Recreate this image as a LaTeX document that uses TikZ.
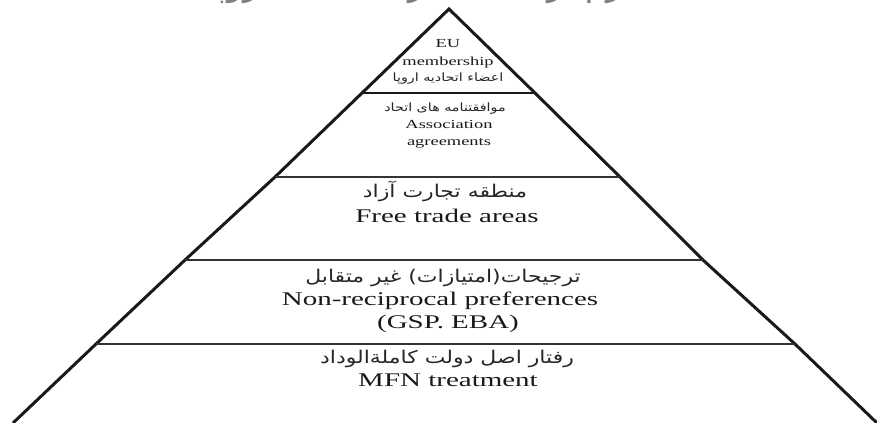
\documentclass[tikz,border=0pt]{standalone}
\usepackage{fontspec}
\newfontfamily\enfont{Liberation Serif}[FakeStretch=1.5]
\newfontfamily\fafont[Script=Arabic,FakeStretch=1.25]{DejaVu Sans}
\newfontfamily\titlefont[Script=Arabic]{DejaVu Sans}
\TeXXeTstate=1
\tikzset{
    edge/.style={draw=black!90, line width=1.7pt, line join=miter},
    rung/.style={draw=black!80, line width=1.2pt},
    enbig/.style={anchor=base, inner sep=0pt, text=black!90, font=\enfont\fontsize{11}{13}\selectfont},
    ensmall/.style={anchor=base, inner sep=0pt, text=black!90, font=\enfont\fontsize{7}{8}\selectfont},
    fabig/.style={anchor=base, inner sep=0pt, text=black!85, font=\fafont\fontsize{10}{12}\selectfont},
    fasmall/.style={anchor=base, inner sep=0pt, text=black!85, font=\fafont\fontsize{6.5}{8}\selectfont}
}
\begin{document}
\begin{tikzpicture}[x=0.02cm, y=-0.02cm]
    \useasboundingbox (0,0) rectangle (877,423);

    \node[anchor=base, inner sep=0pt, text=black!50, font=\titlefont\fontsize{19}{21}\selectfont] (title) at (425,-5) {\beginR هرم ترتیبات تجاری اتحادیه اروپا\endR};

    \draw[edge] (13,423) -- (96,344) -- (185,260) -- (275,177) -- (362,93) -- (449,9) -- (535,93) -- (620,177) -- (703,260) -- (795,344) -- (877,423);
    \draw[edge] (362,93) -- (535,93);
    \foreach \y/\a/\b in {177/275/620, 260/185/703, 344/96/795} {
        \draw[rung] (\a,\y) -- (\b,\y);
    }

    \node[ensmall] (eu1) at (448,47) {EU};
    \node[ensmall] (eu2) at (448,65) {membership};
    \node[fasmall] (eu3) at (448,81) {\beginR اعضاء اتحادیه اروپا\endR};

    \node[fasmall] (aa1) at (445,111) {\beginR موافقتنامه های اتحاد\endR};
    \node[ensmall] (aa2) at (449,128) {Association};
    \node[ensmall] (aa3) at (449,145) {agreements};

    \node[fabig] (fta1) at (445,197) {\beginR منطقه تجارت آزاد\endR};
    \node[enbig] (fta2) at (447,222) {Free trade areas};

    \node[fabig] (nrp1) at (443,282) {\beginR ترجیحات(امتیازات) غیر متقابل\endR};
    \node[enbig] (nrp2) at (440,305) {Non-reciprocal preferences};
    \node[enbig] (nrp3) at (448,328) {(GSP. EBA)};

    \node[fabig] (mfn1) at (447,363) {\beginR رفتار اصل دولت کاملةالوداد\endR};
    \node[enbig] (mfn2) at (448,386) {MFN treatment};
\end{tikzpicture}
\end{document}
